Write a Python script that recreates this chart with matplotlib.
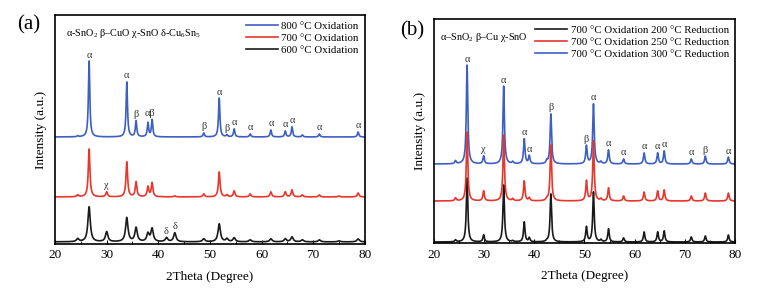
import matplotlib
matplotlib.use('Agg')
import matplotlib.pyplot as plt
from matplotlib.ticker import MultipleLocator
import numpy as np

plt.rcParams['font.family'] = ['Liberation Serif', 'DejaVu Serif']
plt.rcParams['mathtext.fontset'] = 'custom'
plt.rcParams['mathtext.rm'] = 'Liberation Serif'
plt.rcParams['mathtext.it'] = 'Liberation Serif:italic'

# ---- panel (a): peak positions (2theta) and peak heights
pos_a = [24.4, 26.6, 30.0, 33.9, 35.7, 38.0, 38.8, 41.6, 43.2, 48.8, 51.8,
         53.3, 54.7, 57.8, 61.8, 64.6, 65.9, 67.9, 71.2, 75.0, 78.7]
ox_800 = [1, 76, 0, 55, 16, 14, 17, 0, 0, 4, 39, 2, 8, 3, 7, 6, 10, 2, 3, 0, 5]
ox_700 = [2, 48, 5, 35, 15, 10, 14, 0, 1, 3, 25, 2, 6, 3, 5, 5, 7, 2, 2, 1, 4]
ox_600 = [3, 35, 10, 24, 14, 8, 13, 4, 9, 3, 18, 3, 4, 2, 3, 3, 5, 2, 2, 1, 3]
base_a = [107, 47, 2]   # baseline of each trace (800, 700, 600)

lab_800 = [(26.6, 'α'), (33.9, 'α'), (35.7, 'β'), (38.4, 'αβ'), (48.8, 'β'),
           (51.8, 'α'), (53.3, 'β'), (54.7, 'α'), (57.8, 'α'), (61.8, 'α'),
           (64.6, 'α'), (65.9, 'α'), (71.2, 'α'), (78.7, 'α')]
lab_700 = [(30.0, 'χ')]
lab_600 = [(41.6, 'δ'), (43.2, 'δ')]

# ---- panel (b)
pos_b = [24.3, 26.6, 29.9, 33.9, 35.7, 38.0, 39.0, 42.5, 43.3, 50.4, 51.8,
         53.3, 54.8, 57.8, 61.9, 64.6, 65.9, 71.3, 74.1, 78.7]
red_200 = [2, 64, 7, 57, 1, 20, 4, 1, 48, 15, 50, 2, 13, 4, 10, 10, 11, 5, 6, 7]
red_250 = [3, 69, 10, 66, 2, 20, 3, 2, 56, 20, 60, 2, 13, 5, 9, 10, 11, 5, 8, 8]
red_300 = [3, 99, 8, 78, 2, 25, 8, 3, 50, 18, 60, 2, 14, 5, 11, 11, 13, 5, 8, 7]
base_b = [1, 42, 79]    # baseline of each trace (200, 250, 300)

lab_300 = [(26.6, 'α'), (29.9, 'χ'), (33.9, 'α'), (38.0, 'α'), (39.0, 'α'),
           (43.3, 'β'), (50.4, 'β'), (51.8, 'α'), (54.8, 'α'), (57.8, 'α'),
           (61.9, 'α'), (64.6, 'α'), (65.9, 'α'), (71.3, 'α'), (74.1, 'β'),
           (78.7, 'α')]

blue = '#3d5fc4'
red = '#e8362c'
black = '#1a1a1a'

x = np.linspace(20, 80, 4000)


def pattern(pos, heights, base, fwhm):
    y = np.full_like(x, float(base))
    for p, h in zip(pos, heights):
        y += h / (1 + ((x - p) / (fwhm / 2)) ** 2)
    return y


def put_labels(ax, y, labels):
    for xp, t in labels:
        win = (x > xp - 0.5) & (x < xp + 0.5)
        ax.text(xp, y[win].max() + 1.5, t, ha='center', va='bottom',
                fontsize=7.5, color='#333333')


def style(ax, ytop):
    ax.set_xlim(20, 80)
    ax.set_ylim(0, ytop)
    ax.set_yticks([])
    ax.xaxis.set_major_locator(MultipleLocator(10))
    ax.xaxis.set_minor_locator(MultipleLocator(5))
    ax.tick_params(axis='x', which='major', direction='in', length=3,
                   labelsize=9.5, pad=4)
    ax.tick_params(axis='x', which='minor', direction='in', length=2)
    for s in ax.spines.values():
        s.set_linewidth(1.2)
    ax.set_xlabel('2Theta (Degree)', fontsize=9.5, labelpad=7)
    ax.set_ylabel('Intensity (a.u.)', fontsize=9.5, labelpad=6)


fig = plt.figure(figsize=(7.6, 2.9), dpi=100)

# (a)
ax1 = fig.add_axes([0.0724, 0.159, 0.4076, 0.789])
y800 = pattern(pos_a, ox_800, base_a[0], 0.32)
y700 = pattern(pos_a, ox_700, base_a[1], 0.38)
y600 = pattern(pos_a, ox_600, base_a[2], 0.55)
ax1.plot(x, y800, color=blue, lw=1.2, label='800 °C Oxidation')
ax1.plot(x, y700, color=red, lw=1.2, label='700 °C Oxidation')
ax1.plot(x, y600, color=black, lw=1.2, label='600 °C Oxidation')
put_labels(ax1, y800, lab_800)
put_labels(ax1, y700, lab_700)
put_labels(ax1, y600, lab_600)
style(ax1, 229)
ax1.legend(loc='upper right', frameon=False, fontsize=7.8, handlelength=3.0,
           handletextpad=0.3, labelspacing=0.25, borderaxespad=0.15)
ax1.text(0.035, 0.92, r'α-SnO$_\mathrm{2}$ β–CuO χ-SnO δ-Cu$_\mathrm{6}$Sn$_\mathrm{5}$',
         transform=ax1.transAxes, fontsize=7.4, va='center')
fig.text(0.022, 0.915, '(a)', fontsize=15, va='center')

# (b)
ax2 = fig.add_axes([0.571, 0.162, 0.396, 0.772])
y300 = pattern(pos_b, red_300, base_b[2], 0.35)
y200 = pattern(pos_b, red_200, base_b[0], 0.35)
y250 = pattern(pos_b, red_250, base_b[1], 0.35)
l3, = ax2.plot(x, y300, color=blue, lw=1.2, label='700 °C Oxidation 300 °C Reduction')
l1, = ax2.plot(x, y200, color=black, lw=1.2, label='700 °C Oxidation 200 °C Reduction')
l2, = ax2.plot(x, y250, color=red, lw=1.2, label='700 °C Oxidation 250 °C Reduction')
put_labels(ax2, y300, lab_300)
style(ax2, 224)
ax2.legend(handles=[l1, l2, l3], loc='upper right', frameon=False, fontsize=7.8,
           handlelength=3.0, handletextpad=0.3, labelspacing=0.25,
           borderaxespad=0.15)
ax2.text(0.02, 0.92, r'α–SnO$_\mathrm{2}$ β–Cu χ-SnO',
         transform=ax2.transAxes, fontsize=7.4, va='center')
fig.text(0.527, 0.895, '(b)', fontsize=15, va='center')

fig.savefig('out.png', dpi=100)
